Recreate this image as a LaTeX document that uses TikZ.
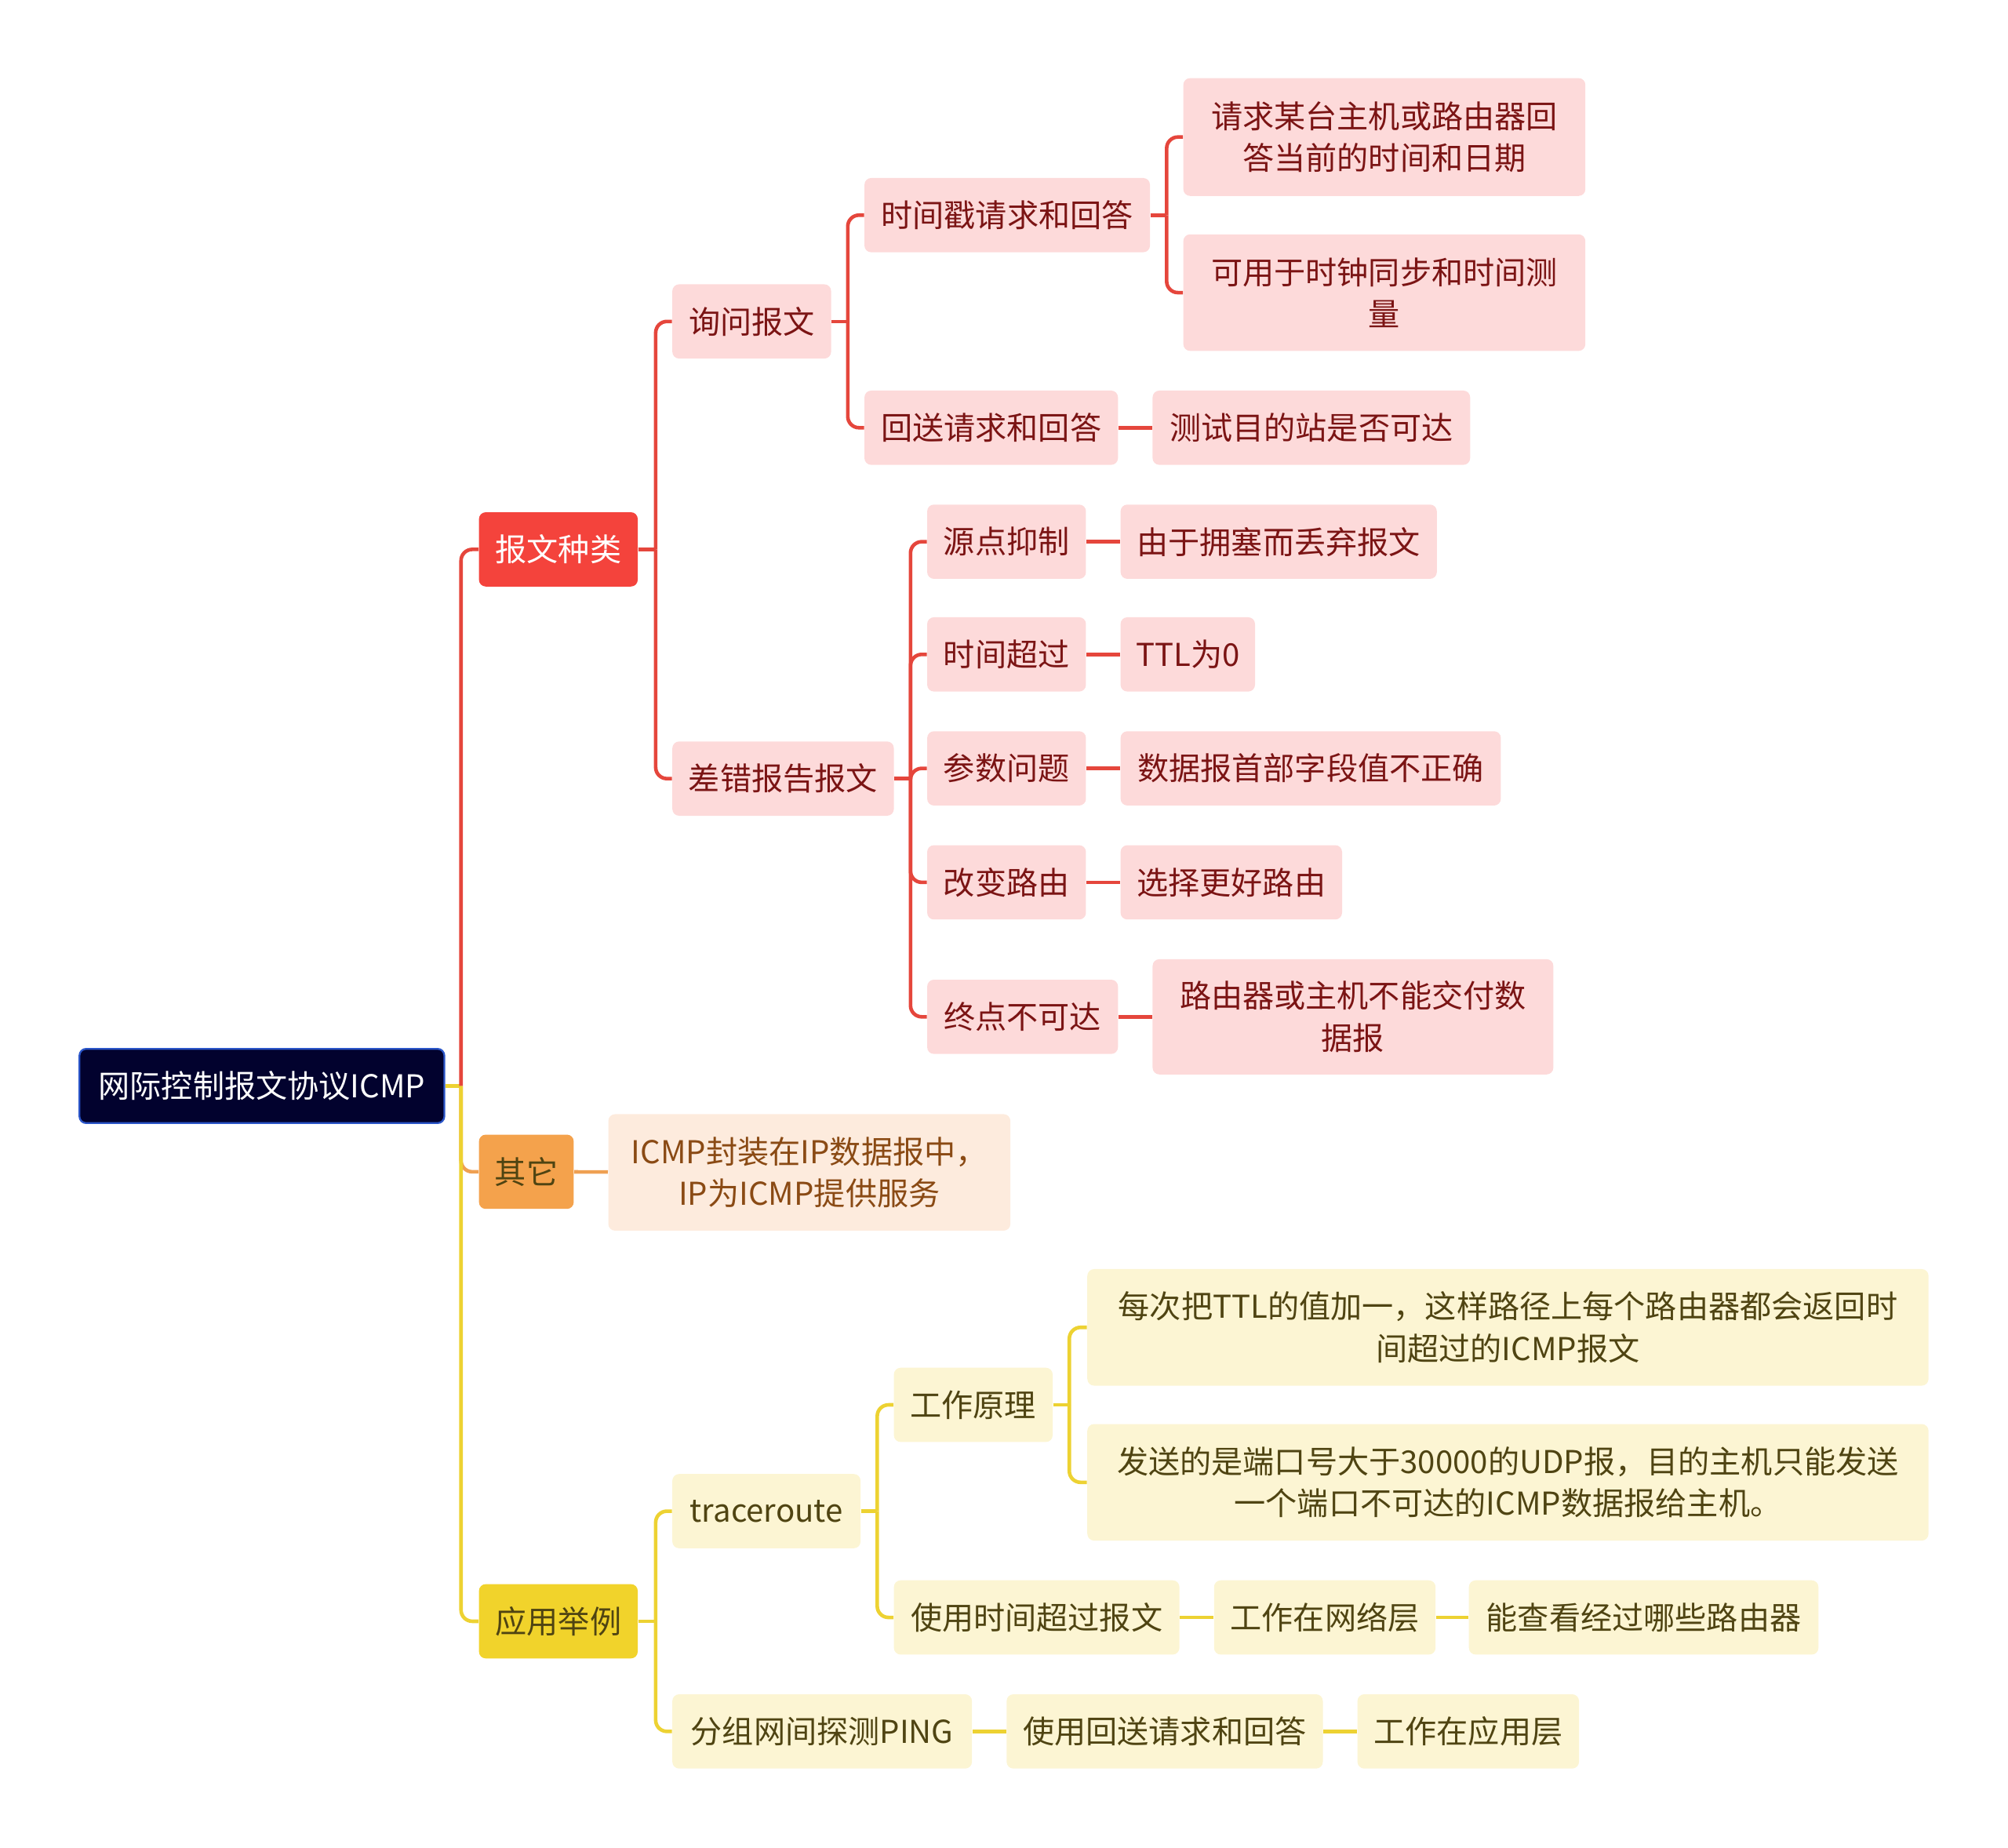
\documentclass[tikz,border=0pt]{standalone}
\usepackage{fontspec}
\setmainfont{Noto Sans CJK SC}
\usepackage{xcolor}
\usepackage{tikz}
\usetikzlibrary{positioning}

\definecolor{croot}{HTML}{02022E}
\definecolor{crootline}{HTML}{2A55C8}
\definecolor{cred}{HTML}{F4433C}
\definecolor{credline}{HTML}{E5463C}
\definecolor{cpink}{HTML}{FDDADA}
\definecolor{cpinktext}{HTML}{7B1414}
\definecolor{corange}{HTML}{F4A24C}
\definecolor{corangeline}{HTML}{EFA052}
\definecolor{cpeach}{HTML}{FDEBDD}
\definecolor{cpeachtext}{HTML}{8A4A14}
\definecolor{cyellow}{HTML}{F1D32B}
\definecolor{cyellowline}{HTML}{EDD232}
\definecolor{clight}{HTML}{FCF5D3}
\definecolor{clighttext}{HTML}{4F4412}

\begin{document}
\begin{tikzpicture}[
    x=0.02cm, y=-0.02cm,
    box/.style={rounded corners=3pt, minimum height=1.16cm, inner sep=0pt, align=center, font=\fontsize{14pt}{18.7pt}\selectfont},
    rootbox/.style={box, fill=croot, draw=crootline, line width=0.8pt, text=white},
    redbox/.style={box, fill=cred, text=white},
    pinkbox/.style={box, fill=cpink, text=cpinktext},
    orangebox/.style={box, fill=corange, text=clighttext},
    peachbox/.style={box, fill=cpeach, text=cpeachtext},
    yellowbox/.style={box, fill=cyellow, text=clighttext},
    lightbox/.style={box, fill=clight, text=clighttext},
    link/.style={line width=1.6pt, rounded corners=5pt},
    rline/.style={link, draw=credline},
    oline/.style={link, draw=corangeline},
    yline/.style={link, draw=cyellowline}
]
\useasboundingbox (0,0) rectangle (1568,1443);

\node[rootbox, minimum width=5.7cm] (root) at (204.5, 848) {网际控制报文协议ICMP};

\node[redbox, minimum width=2.48cm] (bwzl) at (436, 429) {报文种类};
\node[orangebox, minimum width=1.48cm] (qt) at (411, 915) {其它};
\node[yellowbox, minimum width=2.48cm] (yyjl) at (436, 1266) {应用举例};

% 报文种类
\node[pinkbox, minimum width=2.48cm] (xwbw) at (587, 251) {询问报文};
\node[pinkbox, minimum width=3.46cm] (ccbg) at (611.5, 608) {差错报告报文};

\node[pinkbox, minimum width=4.46cm] (sjc) at (786.5, 168) {时间戳请求和回答};
\node[pinkbox, minimum width=3.96cm] (hsqq) at (774, 334) {回送请求和回答};
\node[pinkbox, minimum width=6.28cm, minimum height=1.84cm] (qqmt) at (1081, 107) {请求某台主机或路由器回\\答当前的时间和日期};
\node[pinkbox, minimum width=6.28cm, minimum height=1.82cm] (kyy) at (1081, 228.5) {可用于时钟同步和时间测\\量};
\node[pinkbox, minimum width=4.96cm] (csmd) at (1024, 334) {测试目的站是否可达};

\node[pinkbox, minimum width=2.48cm] (ydyz) at (786, 423) {源点抑制};
\node[pinkbox, minimum width=4.94cm] (yyyz) at (998.5, 423) {由于拥塞而丢弃报文};
\node[pinkbox, minimum width=2.48cm] (sjcg) at (786, 511) {时间超过};
\node[pinkbox, minimum width=2.1cm] (ttl) at (927.5, 511) {TTL为0};
\node[pinkbox, minimum width=2.48cm] (cswt) at (786, 600) {参数问题};
\node[pinkbox, minimum width=5.94cm] (sjbs) at (1023.5, 600) {数据报首部字段值不正确};
\node[pinkbox, minimum width=2.48cm] (gbly) at (786, 689) {改变路由};
\node[pinkbox, minimum width=3.46cm] (xzgh) at (961.5, 689) {选择更好路由};
\node[pinkbox, minimum width=2.98cm] (zdbk) at (798.5, 794) {终点不可达};
\node[pinkbox, minimum width=6.26cm, minimum height=1.8cm] (lyqh) at (1056.5, 794) {路由器或主机不能交付数\\据报};

% 其它
\node[peachbox, minimum width=6.28cm, minimum height=1.82cm] (icmp) at (632, 915.5) {ICMP封装在IP数据报中，\\IP为ICMP提供服务};

% 应用举例
\node[lightbox, minimum width=2.94cm] (trace) at (598.5, 1180) {traceroute};
\node[lightbox, minimum width=2.48cm] (gzyl) at (760, 1097) {工作原理};
\node[lightbox, minimum width=13.14cm, minimum height=1.82cm] (mcttl) at (1177.5, 1036.5) {每次把TTL的值加一，这样路径上每个路由器都会返回时\\间超过的ICMP报文};
\node[lightbox, minimum width=13.14cm, minimum height=1.82cm] (fsdk) at (1177.5, 1157.5) {发送的是端口号大于30000的UDP报，目的主机只能发送\\一个端口不可达的ICMP数据报给主机。};
\node[lightbox, minimum width=4.46cm] (sysj) at (809.5, 1263) {使用时间超过报文};
\node[lightbox, minimum width=3.46cm] (gzwl) at (1034.5, 1263) {工作在网络层};
\node[lightbox, minimum width=5.46cm] (nckg) at (1283.5, 1263) {能查看经过哪些路由器};
\node[lightbox, minimum width=4.68cm] (ping) at (642, 1352) {分组网间探测PING};
\node[lightbox, minimum width=4.94cm] (syhs) at (909.5, 1352) {使用回送请求和回答};
\node[lightbox, minimum width=3.46cm] (gzyy) at (1146.5, 1352) {工作在应用层};

% bars
\coordinate (b0) at (360, 848);
\coordinate (b1) at (512, 429);
\coordinate (b2) at (662, 251);
\coordinate (b3) at (911, 168);
\coordinate (b4) at (711, 608);
\coordinate (b5) at (512, 1266);
\coordinate (b6) at (685, 1180);
\coordinate (b7) at (835, 1097);

\draw[yline] (root.east) -- (b0);
\draw[rline] (b0) |- (bwzl.west);
\draw[oline] (b0) |- (qt.west);
\draw[yline] (b0) |- (yyjl.west);

\draw[rline] (bwzl.east) -- (b1);
\draw[rline] (b1) |- (xwbw.west);
\draw[rline] (b1) |- (ccbg.west);
\draw[rline] (xwbw.east) -- (b2);
\draw[rline] (b2) |- (sjc.west);
\draw[rline] (b2) |- (hsqq.west);
\draw[rline] (sjc.east) -- (b3);
\draw[rline] (b3) |- (qqmt.west);
\draw[rline] (b3) |- (kyy.west);
\draw[rline] (hsqq) -- (csmd);

\draw[rline] (ccbg.east) -- (b4);
\foreach \n in {ydyz, sjcg, cswt, gbly, zdbk}
    \draw[rline] (b4) |- (\n.west);
\draw[rline] (ydyz) -- (yyyz);
\draw[rline] (sjcg) -- (ttl);
\draw[rline] (cswt) -- (sjbs);
\draw[rline] (gbly) -- (xzgh);
\draw[rline] (zdbk) -- (lyqh);

\draw[oline] (qt) -- (icmp);

\draw[yline] (yyjl.east) -- (b5);
\draw[yline] (b5) |- (trace.west);
\draw[yline] (b5) |- (ping.west);
\draw[yline] (trace.east) -- (b6);
\draw[yline] (b6) |- (gzyl.west);
\draw[yline] (b6) |- (sysj.west);
\draw[yline] (gzyl.east) -- (b7);
\draw[yline] (b7) |- (mcttl.west);
\draw[yline] (b7) |- (fsdk.west);
\draw[yline] (sysj) -- (gzwl);
\draw[yline] (gzwl) -- (nckg);
\draw[yline] (ping) -- (syhs);
\draw[yline] (syhs) -- (gzyy);

\end{tikzpicture}
\end{document}
